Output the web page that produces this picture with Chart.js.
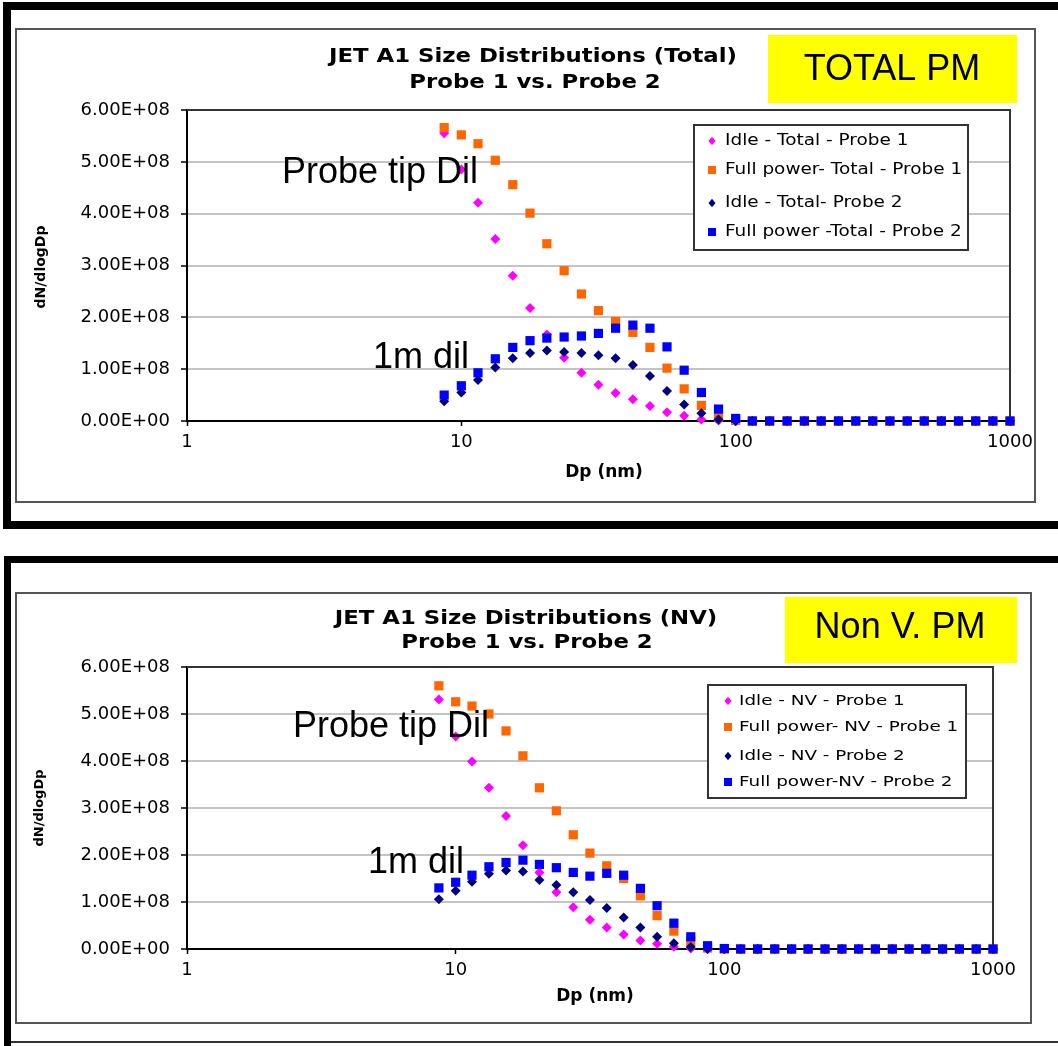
<!DOCTYPE html>
<html>
<head>
  <title>JET A1 Size Distributions</title>
  <script src="https://cdn.jsdelivr.net/npm/chart.js@4.4.0/dist/chart.umd.min.js"></script>
  <style>
    body { margin: 0; background: #fff; }
    canvas { position: absolute; left: 0; }
    #totalChart { top: 0; }
    #nvChart { top: 540px; }
  </style>
</head>
<body>
  <canvas id="totalChart" width="1058" height="540"></canvas>
  <canvas id="nvChart" width="1058" height="506"></canvas>

<script>
// particle diameter channels (nm)
var diameters = [8.66, 10.0, 11.5, 13.3, 15.4, 17.8, 20.5, 23.7, 27.4, 31.6, 36.5, 42.2, 48.7, 56.2, 64.9, 75.0, 86.6,
                 100, 115, 133, 154, 178, 205, 237, 274, 316, 365, 422, 487, 562, 649, 750, 866, 1000];
var xTicks = [1, 10, 100, 1000];
var yMax = 6e8;
var yStep = 1e8;

// Total PM, dN/dlogDp
var totalLabels = ['Idle - Total - Probe 1', 'Full power- Total - Probe 1', 'Idle - Total- Probe 2', 'Full power -Total - Probe 2'];
var idleTotalP1 = [5.55e8, 4.85e8, 4.21e8, 3.51e8, 2.80e8, 2.18e8, 1.67e8, 1.22e8, 0.93e8, 0.70e8, 0.54e8, 0.42e8, 0.29e8, 0.17e8, 0.10e8, 0.03e8, 0.01e8,
                   0, 0, 0, 0, 0, 0, 0, 0, 0, 0, 0, 0, 0, 0, 0, 0, 0];
var fullTotalP1 = [5.66e8, 5.52e8, 5.35e8, 5.03e8, 4.56e8, 4.01e8, 3.42e8, 2.90e8, 2.45e8, 2.13e8, 1.92e8, 1.71e8, 1.42e8, 1.02e8, 0.62e8, 0.30e8, 0.08e8,
                   0.01e8, 0, 0, 0, 0, 0, 0, 0, 0, 0, 0, 0, 0, 0, 0, 0, 0];
var idleTotalP2 = [0.38e8, 0.55e8, 0.79e8, 1.03e8, 1.21e8, 1.31e8, 1.36e8, 1.33e8, 1.31e8, 1.27e8, 1.21e8, 1.08e8, 0.87e8, 0.58e8, 0.32e8, 0.15e8, 0.03e8,
                   0, 0, 0, 0, 0, 0, 0, 0, 0, 0, 0, 0, 0, 0, 0, 0, 0];
var fullTotalP2 = [0.50e8, 0.68e8, 0.93e8, 1.20e8, 1.42e8, 1.55e8, 1.60e8, 1.62e8, 1.64e8, 1.69e8, 1.79e8, 1.85e8, 1.79e8, 1.43e8, 0.98e8, 0.55e8, 0.23e8,
                   0.05e8, 0, 0, 0, 0, 0, 0, 0, 0, 0, 0, 0, 0, 0, 0, 0, 0];

// Non volatile PM, dN/dlogDp
var nvLabels = ['Idle - NV - Probe 1', 'Full power- NV - Probe 1', 'Idle - NV - Probe 2', 'Full power-NV - Probe 2'];
var idleNvP1 = [5.31e8, 4.52e8, 3.99e8, 3.43e8, 2.83e8, 2.21e8, 1.63e8, 1.21e8, 0.89e8, 0.62e8, 0.46e8, 0.31e8, 0.18e8, 0.11e8, 0.05e8, 0.01e8, 0,
                0, 0, 0, 0, 0, 0, 0, 0, 0, 0, 0, 0, 0, 0, 0, 0, 0];
var fullNvP1 = [5.60e8, 5.26e8, 5.17e8, 5.00e8, 4.64e8, 4.11e8, 3.43e8, 2.94e8, 2.43e8, 2.04e8, 1.77e8, 1.50e8, 1.13e8, 0.71e8, 0.38e8, 0.16e8, 0.02e8,
                0, 0, 0, 0, 0, 0, 0, 0, 0, 0, 0, 0, 0, 0, 0, 0, 0];
var idleNvP2 = [1.06e8, 1.24e8, 1.43e8, 1.60e8, 1.67e8, 1.65e8, 1.47e8, 1.36e8, 1.21e8, 1.04e8, 0.87e8, 0.67e8, 0.46e8, 0.26e8, 0.12e8, 0.04e8, 0,
                0, 0, 0, 0, 0, 0, 0, 0, 0, 0, 0, 0, 0, 0, 0, 0, 0];
var fullNvP2 = [1.30e8, 1.42e8, 1.57e8, 1.75e8, 1.84e8, 1.89e8, 1.80e8, 1.73e8, 1.63e8, 1.55e8, 1.61e8, 1.57e8, 1.29e8, 0.92e8, 0.55e8, 0.26e8, 0.07e8,
                0.01e8, 0, 0, 0, 0, 0, 0, 0, 0, 0, 0, 0, 0, 0, 0, 0, 0];

// marker look for the four series (Excel style)
var markers = [
  { color: '#ff00ff', shape: 'rectRot', radius: 5 },
  { color: '#ff6600', shape: 'rect', radius: 6.5 },
  { color: '#000080', shape: 'rectRot', radius: 5 },
  { color: '#0000ff', shape: 'rect', radius: 6.5 }
];

function sciLabel(v) {
  if (v === 0) return '0.00E+00';
  var e = Math.floor(Math.log10(v) + 1e-9);
  var m = v / Math.pow(10, e);
  return m.toFixed(2) + 'E+' + String(e).padStart(2, '0');
}

function makeDatasets(labels, series) {
  return series.map(function (values, k) {
    var mk = markers[k];
    return {
      label: labels[k],
      data: diameters.map(function (d, i) { return { x: d, y: values[i] }; }),
      showLine: false,
      pointStyle: mk.shape,
      pointRadius: mk.radius,
      pointBackgroundColor: mk.color,
      pointBorderColor: mk.color,
      pointBorderWidth: 0,
      clip: false,
      order: 4 - k   // later series on top, like the spreadsheet
    };
  });
}

function drawMarker(ctx, shape, color, x, y, r) {
  ctx.fillStyle = color;
  ctx.beginPath();
  if (shape === 'rect') {
    ctx.rect(x - r, y - r, 2 * r, 2 * r);
  } else {
    ctx.moveTo(x - r, y);
    ctx.lineTo(x, y - r * 1.2);
    ctx.lineTo(x + r, y);
    ctx.lineTo(x, y + r * 1.2);
    ctx.closePath();
  }
  ctx.fill();
}

// text drawn with an optional horizontal stretch (sx)
function drawText(ctx, t) {
  ctx.save();
  ctx.font = t.font;
  ctx.textAlign = t.align || 'center';
  ctx.textBaseline = t.baseline || 'middle';
  ctx.translate(t.x, t.y);
  if (t.rotate) ctx.rotate(t.rotate);
  if (t.sx) ctx.scale(t.sx, 1);
  ctx.fillText(t.text, 0, 0);
  ctx.restore();
}

// frames, yellow tag, titles, notes and the boxed legend
var decor = {
  id: 'decor',
  beforeDraw: function (chart, args, o) {
    var ctx = chart.ctx;
    ctx.save();
    ctx.fillStyle = '#fff';
    ctx.fillRect(0, 0, chart.width, chart.height);
    ctx.fillStyle = '#000';
    o.bars.forEach(function (b) { ctx.fillRect(b[0], b[1], b[2], b[3]); });
    if (o.line) {
      ctx.strokeStyle = '#333';
      ctx.lineWidth = 2;
      ctx.beginPath();
      ctx.moveTo(o.line[0], o.line[1]);
      ctx.lineTo(o.line[2], o.line[1]);
      ctx.stroke();
    }
    ctx.strokeStyle = '#555';
    ctx.lineWidth = 2;
    ctx.strokeRect(o.frame[0], o.frame[1], o.frame[2], o.frame[3]);
    ctx.fillStyle = '#ffff00';
    ctx.fillRect(o.tag[0], o.tag[1], o.tag[2], o.tag[3]);
    ctx.restore();
  },
  beforeDatasetsDraw: function (chart) {
    var ctx = chart.ctx, a = chart.chartArea;
    ctx.save();
    ctx.strokeStyle = '#333';
    ctx.lineWidth = 2;
    ctx.beginPath();
    ctx.moveTo(a.left, a.top);
    ctx.lineTo(a.right, a.top);
    ctx.lineTo(a.right, a.bottom);
    ctx.stroke();
    ctx.restore();
  },
  afterDraw: function (chart, args, o) {
    var ctx = chart.ctx;
    ctx.save();
    ctx.fillStyle = '#000';
    o.texts.forEach(function (t) { drawText(ctx, t); });

    var lg = o.legend;
    ctx.fillStyle = '#fff';
    ctx.fillRect(lg.x, lg.y, lg.w, lg.h);
    ctx.strokeStyle = '#333';
    ctx.lineWidth = 2;
    ctx.strokeRect(lg.x, lg.y, lg.w, lg.h);
    chart.data.datasets.forEach(function (ds, k) {
      var mk = markers[k];
      drawMarker(ctx, mk.shape, mk.color, lg.markerX, lg.rows[k], mk.shape === 'rect' ? 4 : 3.5);
      ctx.fillStyle = '#000';
      drawText(ctx, { text: ds.label, x: lg.textX, y: lg.rows[k], font: lg.font, align: 'left', sx: lg.sx });
    });
    ctx.restore();
  }
};

function makeChart(id, labels, series, layout, deco) {
  return new Chart(document.getElementById(id), {
    type: 'scatter',
    data: { datasets: makeDatasets(labels, series) },
    options: {
      responsive: false,
      animation: false,
      devicePixelRatio: 1,
      events: [],
      layout: { padding: layout },
      plugins: {
        legend: { display: false },
        tooltip: { enabled: false },
        decor: deco
      },
      scales: {
        x: {
          type: 'logarithmic',
          min: 1,
          max: 1000,
          afterBuildTicks: function (s) { s.ticks = xTicks.map(function (v) { return { value: v }; }); },
          afterFit: function (s) { s.height = 60; },
          ticks: {
            callback: function (v) { return String(v); },
            font: { family: 'DejaVu Sans', size: 18 },
            color: '#000',
            padding: 6,
            maxRotation: 0,
            autoSkip: false
          },
          grid: { drawOnChartArea: false, tickLength: 5, tickColor: '#000', tickWidth: 1.5 },
          border: { color: '#000', width: 2 }
        },
        y: {
          min: 0,
          max: yMax,
          afterFit: function (s) { s.width = 120; },
          ticks: {
            stepSize: yStep,
            callback: sciLabel,
            font: { family: 'DejaVu Sans', size: 18 },
            color: '#000',
            padding: 11
          },
          grid: { color: '#c4c4c4', lineWidth: 2, tickLength: 6, tickColor: '#000', tickWidth: 1.5 },
          border: { color: '#000', width: 2 }
        }
      }
    },
    plugins: [decor]
  });
}

var titleFont = 'bold 19px "DejaVu Sans"';
var noteFont = '36px "Liberation Sans"';

makeChart('totalChart', totalLabels, [idleTotalP1, fullTotalP1, idleTotalP2, fullTotalP2],
  { left: 67, right: 48, top: 110, bottom: 59 },
  {
    bars: [[3, 2, 8, 527], [3, 2, 1055, 8], [3, 521, 1055, 8]],
    frame: [16, 29, 1019, 473],
    tag: [768, 35, 249, 68],
    texts: [
      { text: 'JET A1 Size Distributions (Total)', x: 533, y: 57, font: titleFont, sx: 1.2 },
      { text: 'Probe 1 vs. Probe 2', x: 535, y: 83, font: titleFont, sx: 1.2 },
      { text: 'TOTAL PM', x: 892, y: 70, font: '36px "Liberation Sans"' },
      { text: 'Probe tip Dil', x: 282, y: 183, font: noteFont, align: 'left', baseline: 'alphabetic' },
      { text: '1m dil', x: 373, y: 368, font: noteFont, align: 'left', baseline: 'alphabetic' },
      { text: 'Dp (nm)', x: 604, y: 473, font: 'bold 17px "DejaVu Sans"' },
      { text: 'dN/dlogDp', x: 41, y: 267, font: 'bold 14px "DejaVu Sans"', rotate: -Math.PI / 2 }
    ],
    legend: { x: 694, y: 125, w: 274, h: 125, rows: [141, 170, 203, 232], markerX: 712, textX: 725, font: '15px "DejaVu Sans"', sx: 1.23 }
  });

makeChart('nvChart', nvLabels, [idleNvP1, fullNvP1, idleNvP2, fullNvP2],
  { left: 67, right: 65, top: 127, bottom: 37 },
  {
    bars: [[4, 16, 1054, 7], [4, 16, 7, 490]],
    line: [11, 502, 1058],
    frame: [16, 53, 1015, 430],
    tag: [785, 57, 232, 66],
    texts: [
      { text: 'JET A1 Size Distributions (NV)', x: 526, y: 79, font: titleFont, sx: 1.2 },
      { text: 'Probe 1 vs. Probe 2', x: 527, y: 103, font: titleFont, sx: 1.2 },
      { text: 'Non V. PM', x: 900, y: 88, font: '36px "Liberation Sans"' },
      { text: 'Probe tip Dil', x: 293, y: 197, font: noteFont, align: 'left', baseline: 'alphabetic' },
      { text: '1m dil', x: 368, y: 333, font: noteFont, align: 'left', baseline: 'alphabetic' },
      { text: 'Dp (nm)', x: 595, y: 457, font: 'bold 17px "DejaVu Sans"' },
      { text: 'dN/dlogDp', x: 40, y: 268, font: 'bold 13px "DejaVu Sans"', rotate: -Math.PI / 2 }
    ],
    legend: { x: 708, y: 145, w: 258, h: 113, rows: [161, 187, 216, 242], markerX: 728, textX: 739, font: '14px "DejaVu Sans"', sx: 1.31 }
  });
</script>
</body>
</html>
